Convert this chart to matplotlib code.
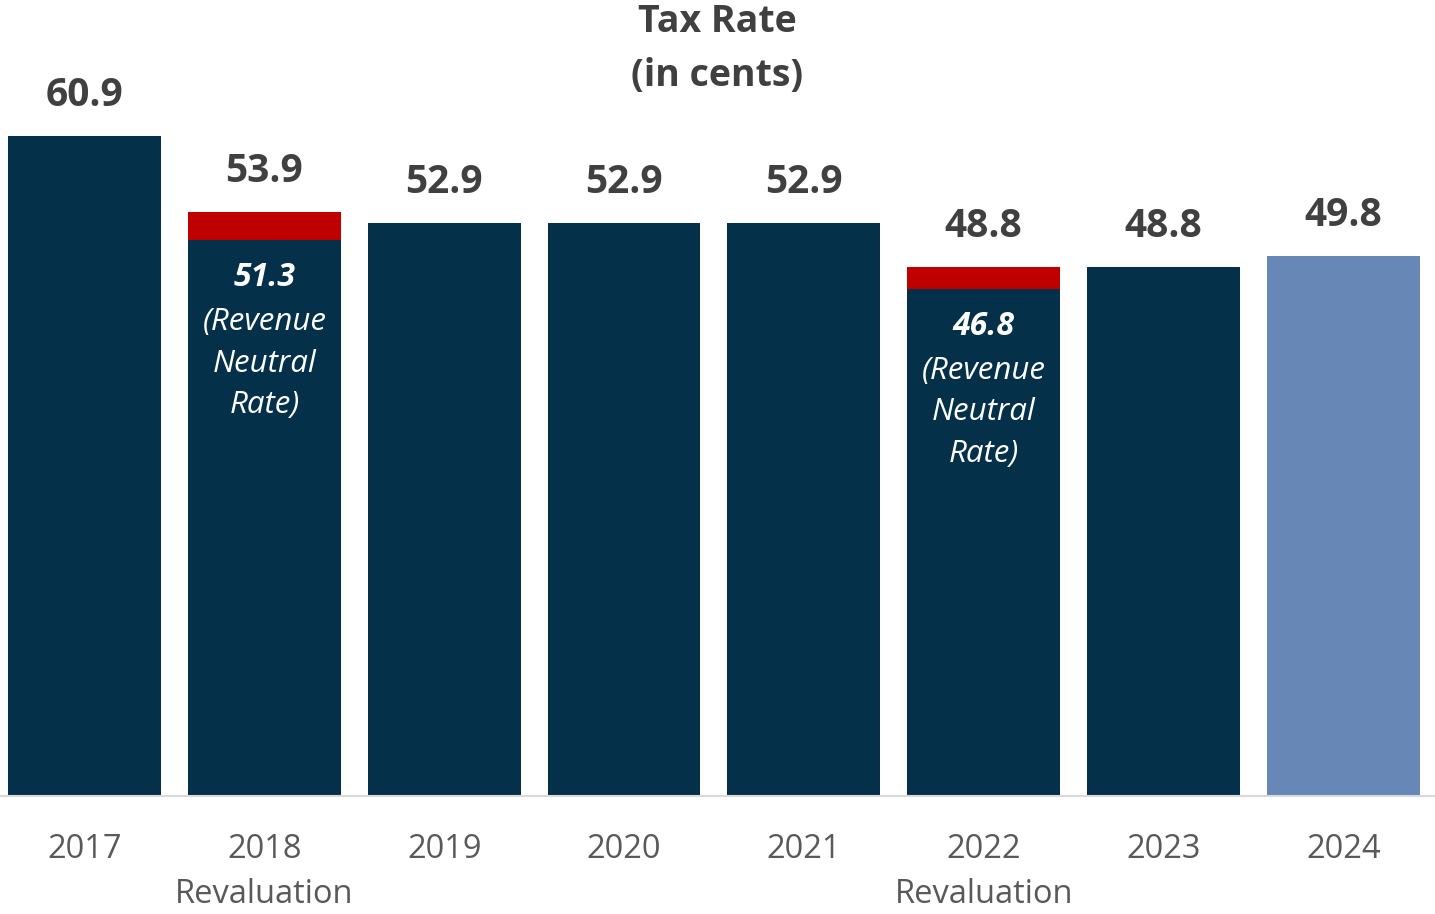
import matplotlib.pyplot as plt

plt.rcParams["font.family"] = ["Open Sans", "DejaVu Sans"]

years = ["2017", "2018", "2019", "2020", "2021", "2022", "2023", "2024"]
subtitles = ["", "Revaluation", "", "", "", "Revaluation", "", ""]
tax_rate = [60.9, 53.9, 52.9, 52.9, 52.9, 48.8, 48.8, 49.8]
neutral_rate = [None, 51.3, None, None, None, 46.8, None, None]

NAVY = "#04304A"
RED = "#C00000"
LIGHT = "#6787B7"
colors = [NAVY] * 7 + [LIGHT]

W, H = 1435, 914
fig = plt.figure(figsize=(W / 100, H / 100), dpi=100)
base_px = 796
ax = fig.add_axes([0, 1 - base_px / H, 1, base_px / H])

x = list(range(len(years)))
for i, v in enumerate(tax_rate):
    rn = neutral_rate[i]
    if rn is None:
        ax.bar(i, v, width=0.85, color=colors[i])
    else:
        ax.bar(i, rn, width=0.85, color=colors[i])
        ax.bar(i, v - rn, bottom=rn, width=0.85, color=RED)
        ax.annotate(f"{rn:.1f}", (i, rn), xytext=(0, -27), textcoords="offset points",
                    ha="center", va="center", color="white", fontsize=23,
                    fontweight="bold", fontstyle="italic")
        ax.annotate("(Revenue\nNeutral\nRate)", (i, rn), xytext=(0, -89), textcoords="offset points",
                    ha="center", va="center", color="white", fontsize=22.5,
                    fontstyle="italic", linespacing=1.5)
    ax.annotate(f"{v:.1f}", (i, v), xytext=(0, 29), textcoords="offset points",
                ha="center", va="center", color="#404040", fontsize=28, fontweight="bold")

ax.set_xlim(-0.47, 7.51)
ax.set_ylim(0, base_px / 10.84)
ax.set_xticks(x)
ax.set_xticklabels([y if not s else f"{y}\n{s}" for y, s in zip(years, subtitles)],
                   fontsize=23.5, color="#595959", linespacing=1.45)
ax.tick_params(axis="x", length=0, pad=27)
ax.set_yticks([])
for side in ["top", "left", "right"]:
    ax.spines[side].set_visible(False)
ax.spines["bottom"].set_color("#D9D9D9")
ax.spines["bottom"].set_linewidth(1.5)
ax.patch.set_alpha(0)

fig.text(0.5, 1 - 22 / H, "Tax Rate", ha="center", va="center",
         fontsize=27, fontweight="bold", color="#404040")
fig.text(0.5, 1 - 76 / H, "(in cents)", ha="center", va="center",
         fontsize=27, fontweight="bold", color="#404040")

fig.savefig("out.png", dpi=100, facecolor="white")
